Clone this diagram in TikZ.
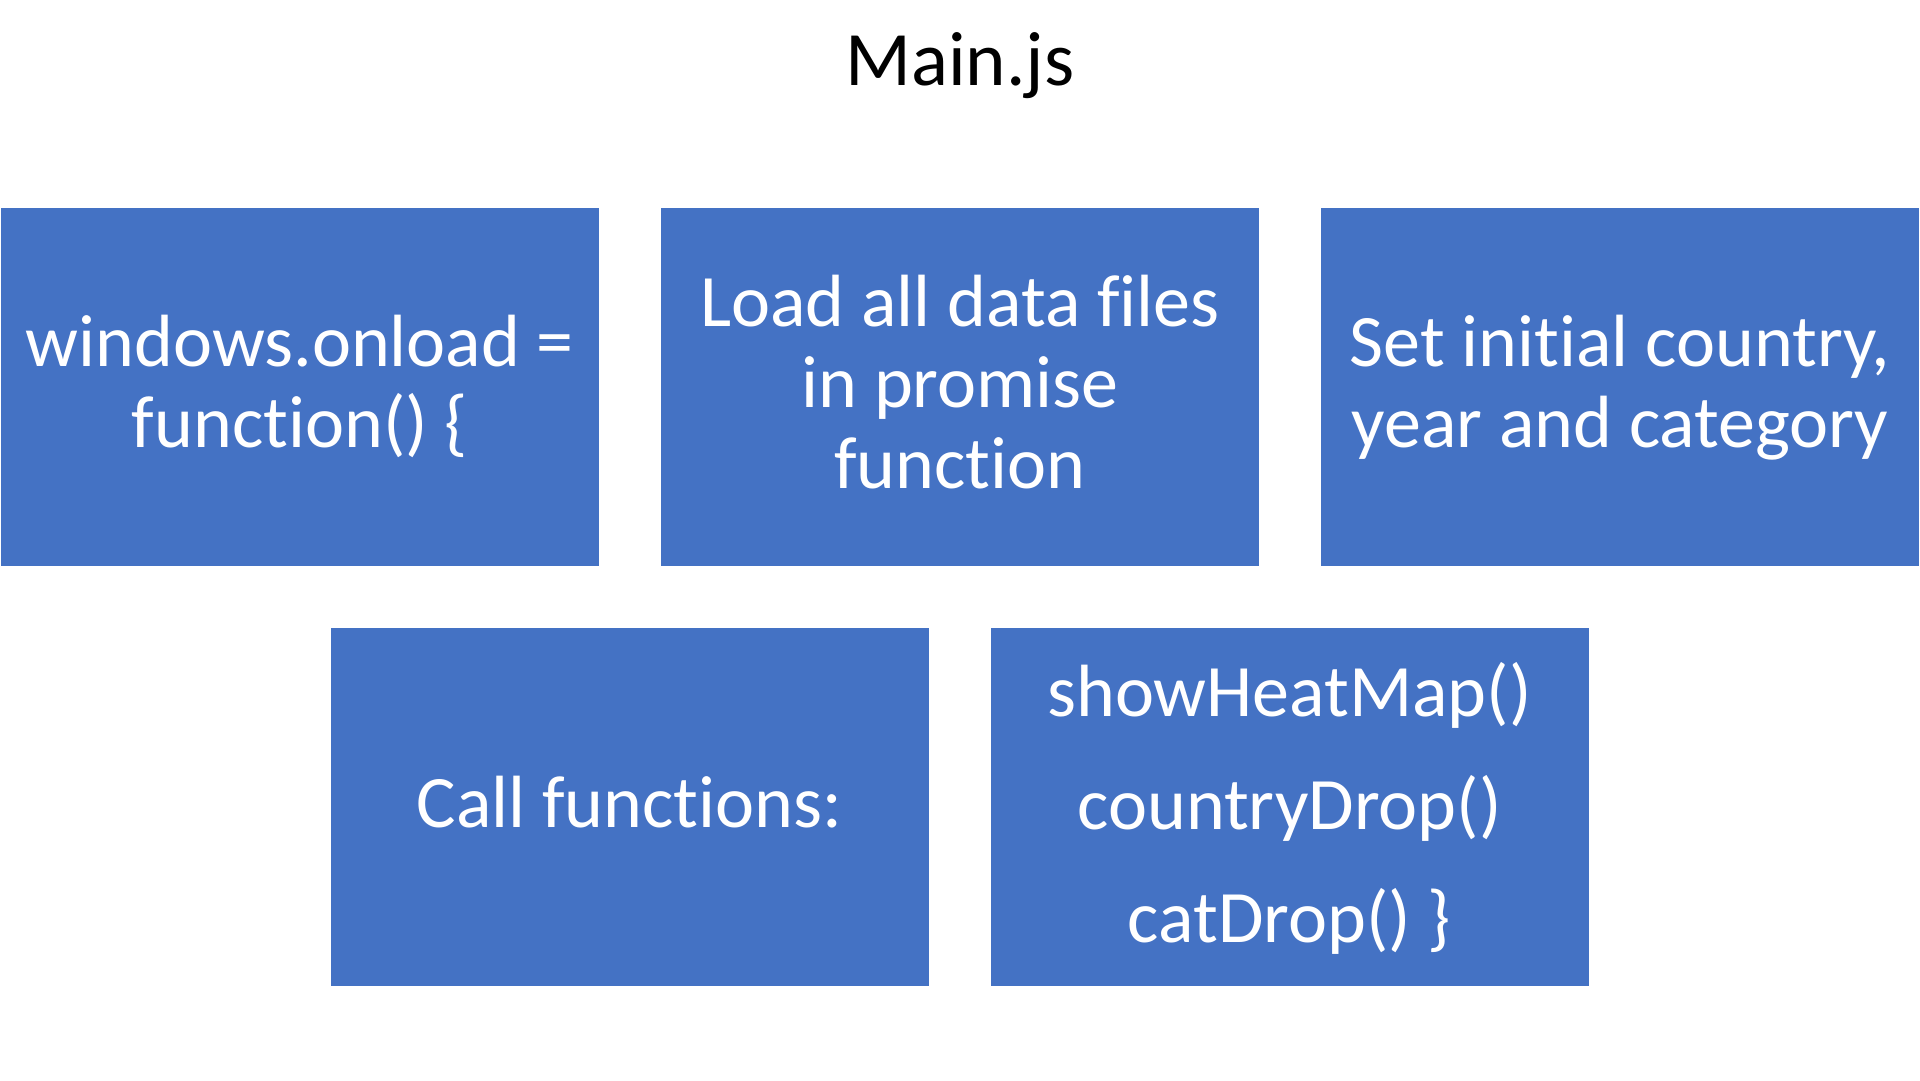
\documentclass[tikz,border=0pt]{standalone}
\usepackage{fontspec}
\setmainfont{Carlito}[Ligatures={NoCommon}]
\definecolor{boxblue}{HTML}{4472C4}
\newcommand\lnA{\vrule height 60.5pt depth 20.5pt width 0pt}
\newcommand\lnB{\vrule height 78.5pt depth 34.5pt width 0pt}
\begin{document}
\begin{tikzpicture}[x=1pt,y=-1pt,
  blockbox/.style={rectangle, fill=boxblue, draw=none, text=white,
    minimum width=598pt, minimum height=358pt, inner sep=0pt, align=center,
    font=\fontsize{74}{81}\selectfont},
  widebox/.style={blockbox, font=\fontsize{74}{113}\selectfont},
  titletext/.style={anchor=base, inner sep=0pt, font=\fontsize{77}{90}\selectfont}]
\useasboundingbox (0,0) rectangle (1920,1080);
\fill[white] (0,0) rectangle (1920,1080);
\node[titletext] (title) at (960,85) {Main.js};
\node[blockbox] (onload) at (300,387) {\lnA windows.onload =\\\lnA function() \{};
\node[blockbox] (load) at (960,387) {\lnA Load all data files\\\lnA in promise\\\lnA function};
\node[blockbox] (init) at (1620,387) {\lnA Set initial country,\\\lnA year and category};
\node[blockbox] (call) at (629.5,807) {\lnA Call functions:};
\node[widebox] (funcs) at (1289.5,807) {\lnB showHeatMap()\\\lnB countryDrop()\\\lnB catDrop() \}};
\end{tikzpicture}
\end{document}
